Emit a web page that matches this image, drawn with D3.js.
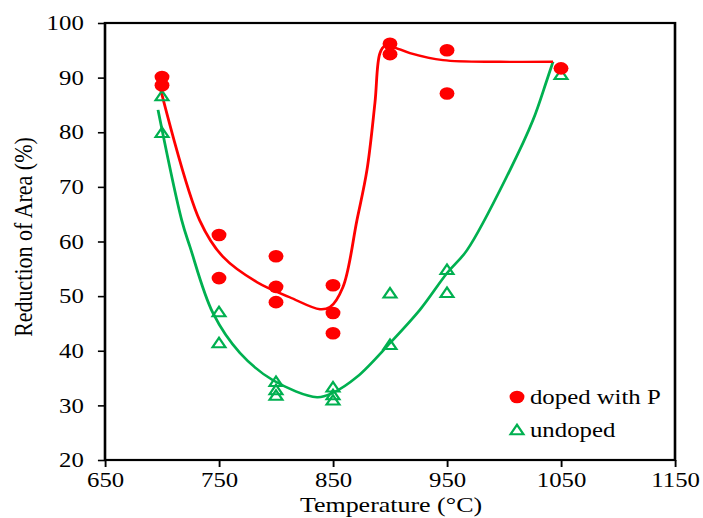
<!DOCTYPE html>
<html><head><meta charset="utf-8">
<script src="https://cdn.jsdelivr.net/npm/d3@7/dist/d3.min.js"></script>
<style>
html,body{margin:0;padding:0;background:#fff;}
svg text{font-family:"Liberation Serif","Times New Roman",serif;fill:#000;}
</style></head>
<body><svg id="chart" width="703" height="518"></svg>
<script>
// ---- data ----
const xTicks = [650, 750, 850, 950, 1050, 1150];
const yTicks = [20, 30, 40, 50, 60, 70, 80, 90, 100];

const dopedT  = [700, 700, 750, 750, 800, 800, 800, 850, 850, 850, 900, 900, 950, 950, 1050];
const dopedRA = [90.1, 88.6, 61.2, 53.3, 57.3, 51.7, 48.9, 52.0, 46.9, 43.2, 96.2, 94.3, 95.0, 87.1, 91.7];

const undopedT  = [700, 700, 750, 750, 800, 800, 800, 850, 850, 850, 900, 900, 950, 950, 1050];
const undopedRA = [86.6, 79.9, 47.1, 41.4, 34.3, 32.8, 31.8, 33.3, 31.9, 30.9, 50.5, 41.1, 54.8, 50.6, 90.5];

// fitted trend curves
const dopedFitT  = [698, 733, 753.5, 783, 812, 838.6, 847.4, 858.8, 871, 879.8, 886.8, 891.2, 895.6, 902.6, 917.5, 946.5, 996.5, 1043];
const dopedFitRA = [88.5, 63.9, 57.2, 52.6, 49.8, 47.6, 48.0, 51.7, 63.9, 73.1, 85.4, 94.5, 95.8, 95.6, 94.5, 93.2, 92.9, 92.9];

const undopedFitT  = [696.5, 717.3, 724.6, 744.7, 768.4, 797.4, 836, 850, 871, 900, 926.3, 950, 967.5, 1005.3, 1025.4, 1037.7, 1043];
const undopedFitRA = [84.1, 63.9, 59.0, 46.9, 39.6, 34.6, 31.5, 32.3, 35.2, 41.4, 47.5, 54.2, 58.4, 73.1, 82.2, 89.6, 92.9];

const seriesNames = ["doped with P", "undoped"];
const RED = "#ff0000", GREEN = "#00b050";

// ---- layout ----
const SX = 1.18; // the reference is horizontally stretched
const L = 105, R = 675, T = 23, B = 460;

const svg = d3.select("#chart");
const g = svg.append("g").attr("transform", `scale(${SX},1)`);

const x = d3.scaleLinear().domain([650, 1150]).range([L / SX, R / SX]);
const y = d3.scaleLinear().domain([20, 100]).range([B, T]);

// axes
const xAxis = g.append("g").attr("transform", `translate(0,${B})`)
  .call(d3.axisBottom(x).tickValues(xTicks).tickSize(7).tickPadding(5).tickFormat(d3.format("d")));
const yAxis = g.append("g").attr("transform", `translate(${x(650)},0)`)
  .call(d3.axisLeft(y).tickValues(yTicks).tickSize(6).tickPadding(12).tickFormat(d3.format("d")));
[xAxis, yAxis].forEach(a => {
  a.select(".domain").remove();
  a.selectAll(".tick line").attr("stroke", "#000").attr("stroke-width", 1.6);
  a.selectAll(".tick text").style("font-size", "21px").attr("font-family", null);
});

// frame
g.append("rect")
  .attr("x", x(650)).attr("y", y(100))
  .attr("width", x(1150) - x(650)).attr("height", y(20) - y(100))
  .attr("fill", "none").attr("stroke", "#000").attr("stroke-width", 2.2);

// fitted curves
const line = d3.line().curve(d3.curveCatmullRom.alpha(0.5)).x(d => x(d[0])).y(d => y(d[1]));
g.append("path").datum(d3.zip(undopedFitT, undopedFitRA))
  .attr("d", line).attr("fill", "none").attr("stroke", GREEN).attr("stroke-width", 2.4);
g.append("path").datum(d3.zip(dopedFitT, dopedFitRA))
  .attr("d", line).attr("fill", "none").attr("stroke", RED).attr("stroke-width", 2.4);

// markers
const tri = d3.symbol().type(d3.symbolTriangle).size(52);
g.selectAll(".und").data(d3.zip(undopedT, undopedRA)).join("path")
  .attr("class", "und")
  .attr("transform", d => `translate(${x(d[0])},${y(d[1]) + 1})`)
  .attr("d", tri).attr("fill", "none").attr("stroke", GREEN).attr("stroke-width", 2);

g.selectAll(".dop").data(d3.zip(dopedT, dopedRA)).join("circle")
  .attr("class", "dop")
  .attr("cx", d => x(d[0])).attr("cy", d => y(d[1])).attr("r", 6.3)
  .attr("fill", RED);

// legend
const lg = g.append("g");
lg.append("circle").attr("cx", 517 / SX).attr("cy", 397).attr("r", 6.3).attr("fill", RED);
lg.append("text").attr("x", 530 / SX).attr("y", 404).style("font-size", "21px").text(seriesNames[0]);
lg.append("path").attr("transform", `translate(${517 / SX},${431})`).attr("d", tri)
  .attr("fill", "none").attr("stroke", GREEN).attr("stroke-width", 2);
lg.append("text").attr("x", 530 / SX).attr("y", 437).style("font-size", "21px").text(seriesNames[1]);

// axis titles
g.append("text").attr("x", 391 / SX).attr("y", 512).attr("text-anchor", "middle")
  .style("font-size", "22px").text("Temperature (°C)");
g.append("text").attr("transform", `translate(${32 / SX},237) rotate(-90)`)
  .attr("text-anchor", "middle").style("font-size", "22px").text("Reduction of Area (%)");
</script></body></html>
